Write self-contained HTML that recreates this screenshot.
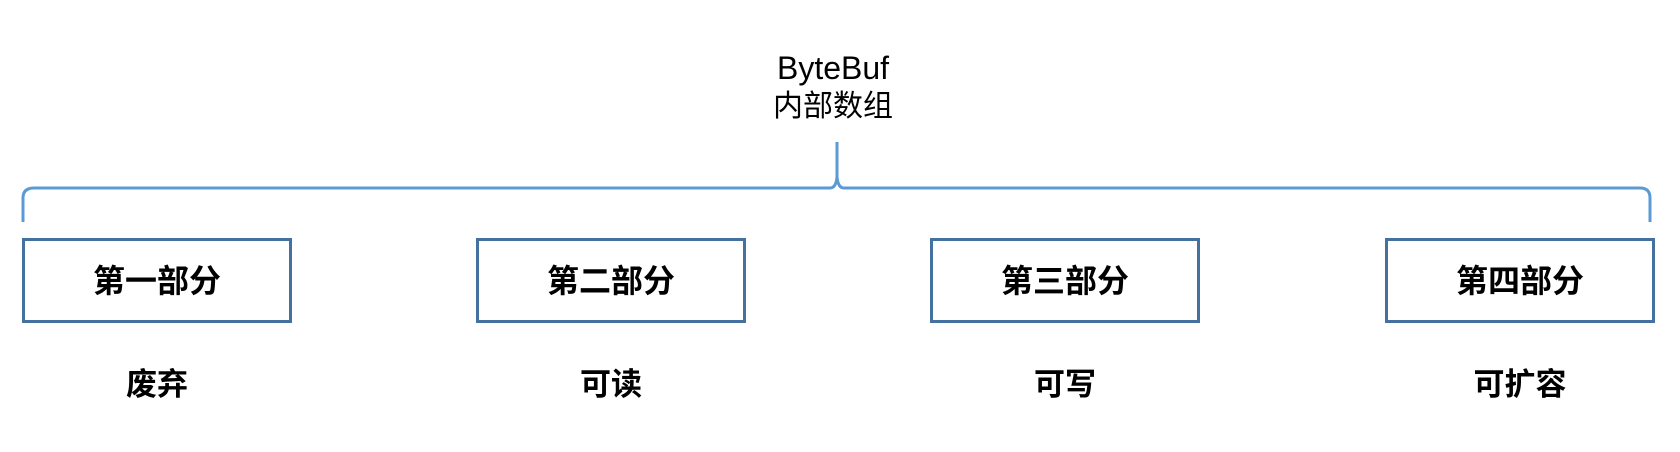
<!DOCTYPE html>
<html><head><meta charset="utf-8"><style>
html,body{margin:0;padding:0;background:#fff;}
body{width:1680px;height:452px;position:relative;overflow:hidden;font-family:"Liberation Sans","Noto Sans CJK SC",sans-serif;}
.t{position:absolute;text-align:center;color:#000;left:683px;width:300px;}
.box{position:absolute;top:238px;width:264px;height:76px;padding-bottom:3px;border:3px solid #44719f;box-sizing:content-box;display:flex;align-items:center;justify-content:center;font-size:32px;font-weight:600;}
.lab{position:absolute;top:359px;width:270px;text-align:center;font-size:31px;font-weight:600;}
</style></head><body>
<div class="t" style="top:52px;font-size:32px;line-height:32px;">ByteBuf</div>
<div class="t" style="top:92px;font-size:30px;line-height:30px;">内部数组</div>
<svg width="1680" height="452" style="position:absolute;left:0;top:0">
<path d="M23 222 L23 198 Q23 188 34 188 L830 188 Q836 188 837 177 L837 142 M837 142 L837 177 Q838 188 844 188 L1640 188 Q1650 188 1650 198 L1650 222" fill="none" stroke="#5b9bd5" stroke-width="3"/>
</svg>
<div class="box" style="left:22px;">第一部分</div>
<div class="box" style="left:476px;">第二部分</div>
<div class="box" style="left:930px;">第三部分</div>
<div class="box" style="left:1385px;">第四部分</div>
<div class="lab" style="left:22px;">废弃</div>
<div class="lab" style="left:476px;">可读</div>
<div class="lab" style="left:930px;">可写</div>
<div class="lab" style="left:1385px;">可扩容</div>
</body></html>
